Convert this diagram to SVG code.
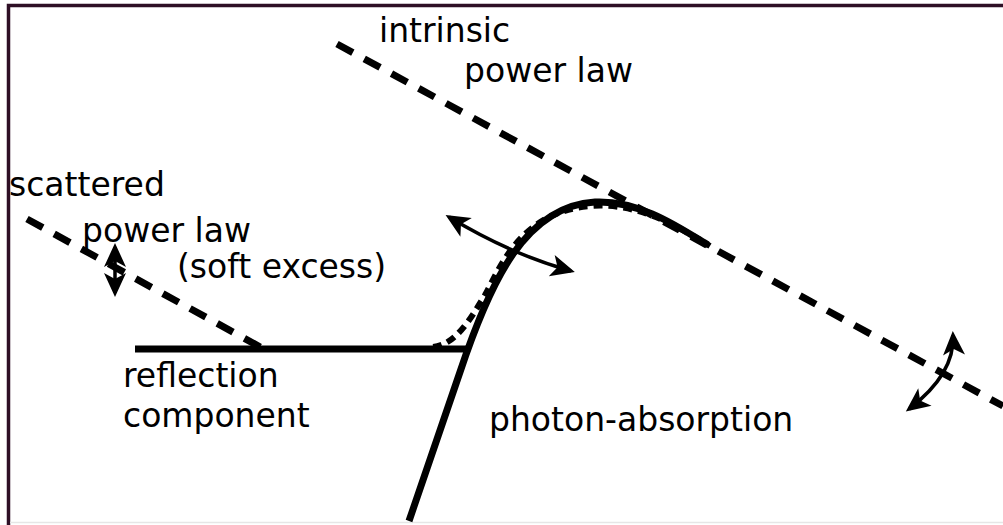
<svg xmlns="http://www.w3.org/2000/svg" width="1003" height="525" viewBox="0 0 1003 525">
<style>
text{font-family:"DejaVu Sans",sans-serif;font-size:33px;fill:#000}
.dash{fill:none;stroke:#000;stroke-width:7;stroke-dasharray:18 13}
.solid{fill:none;stroke:#000;stroke-width:7}
.dot{fill:none;stroke:#000;stroke-width:6;stroke-dasharray:9 6}
.arr{fill:none;stroke:#000;stroke-width:3.5;marker-start:url(#ah);marker-end:url(#ah)}
</style>
<defs>
<marker id="ah" markerUnits="userSpaceOnUse" markerWidth="40" markerHeight="40" viewBox="-25 -15 40 30" refX="0" refY="0" orient="auto-start-reverse">
<path d="M4,0 L-20,-11 L-14,0 L-20,11 Z" fill="#000"/>
</marker>
</defs>
<rect x="8.5" y="5.5" width="1010" height="540" fill="#fff" stroke="#2e0f25" stroke-width="3.5"/>
<line x1="10" y1="522.5" x2="1003" y2="522.5" stroke="#e6e6e6" stroke-width="1.5"/>
<g id="connectors">
<path id="intrinsic-line" class="dash" d="M337,44 L1003,406"/>
<path id="scattered-line" class="dash" d="M27,219 L262,348"/>
<path id="reflection-line" class="solid" d="M135,349 L470,349"/>
<path id="absorption-dotted" class="dot" d="M433,347 C455,345 470,320 485,295 C500,268 520,212 590,206 C640,202 680,228 710,246"/>
<path id="absorption-curve" class="solid" d="M409,521 L460,372 C490,282 525,206 595,202 C640,200 680,228 708,245"/>
<path id="arrow-mid" class="arr" d="M449,217 Q510,254 571,271"/>
<path id="arrow-left" class="arr" d="M115,247 L115,293"/>
<path id="arrow-right" class="arr" d="M953,335 Q955,374 909,409"/>
</g>
<g id="label-intrinsic"><text x="379" y="42">intrinsic</text><text x="464" y="82">power law</text></g>
<g id="label-scattered"><text x="9" y="196">scattered</text><text x="82" y="242">power law</text><text x="177" y="278">(soft excess)</text></g>
<g id="label-reflection"><text x="123" y="387">reflection</text><text x="123" y="427">component</text></g>
<g id="label-absorption"><text x="489" y="431">photon-absorption</text></g>
</svg>
